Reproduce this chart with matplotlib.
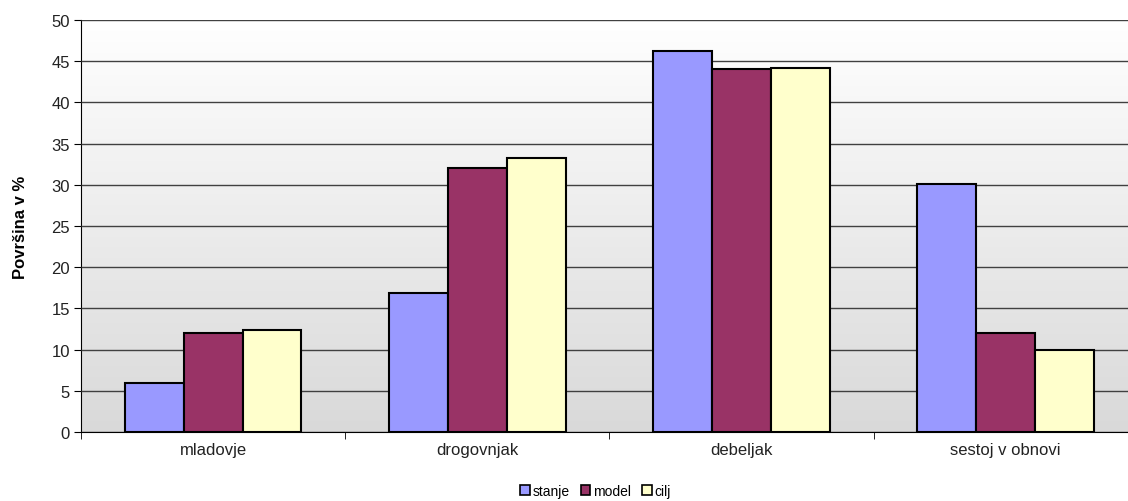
import numpy as np
import matplotlib.pyplot as plt
from matplotlib.patches import Patch
from matplotlib.colors import LinearSegmentedColormap

plt.rcParams['font.family'] = ['Liberation Sans', 'DejaVu Sans']

# chart data
categories = ['mladovje', 'drogovnjak', 'debeljak', 'sestoj v obnovi']
series_names = ['stanje', 'model', 'cilj']
stanje = [6.0, 16.9, 46.2, 30.1]
model = [12.0, 32.0, 44.1, 12.0]
cilj = [12.4, 33.3, 44.2, 9.9]
colors = ['#9999FF', '#993366', '#FFFFCC']

fig = plt.figure(figsize=(11.28, 5.02), dpi=100)
# plot area runs past the right edge of the picture, as in the original
ax = fig.add_axes([0.0718, 0.1375, 0.9369, 0.8207])

# gradient background (white at top to grey at bottom)
grad = np.linspace(1.0, 0.0, 256).reshape(-1, 1)
bg = LinearSegmentedColormap.from_list('bg', ['#D9D9D9', '#FFFFFF'])
ax.imshow(grad, cmap=bg, aspect='auto',
          extent=[-0.5, len(categories) - 0.5, 0, 50], origin='upper', zorder=0)

x = np.arange(len(categories))
width = 0.223
for i, (vals, col) in enumerate(zip([stanje, model, cilj], colors)):
    ax.bar(x + (i - 1) * width, vals, width, color=col, edgecolor='black',
           linewidth=1.5, zorder=3)

ax.set_xlim(-0.5, len(categories) - 0.5)
ax.set_ylim(0, 50)
ax.set_yticks(np.arange(0, 51, 5))
ax.yaxis.grid(True, color='#404040', linewidth=1.0, zorder=1)
ax.set_axisbelow(False)

ax.set_xticks(x)
ax.set_xticklabels(categories, fontsize=12, color='#222222')
ax.set_xticks(np.arange(-0.5, len(categories)), minor=True)
ax.tick_params(axis='x', which='major', length=0, pad=7)
ax.tick_params(axis='x', which='minor', length=5, color='black')
ax.tick_params(axis='y', length=5, labelsize=12, pad=3, labelcolor='#222222')

for side in ['top', 'right']:
    ax.spines[side].set_visible(False)
ax.spines['left'].set_color('black')
ax.spines['bottom'].set_color('black')

ax.set_ylabel('Površina v %', fontsize=12, fontweight='bold', labelpad=17)

handles = [Patch(facecolor=c, edgecolor='black', linewidth=1.2) for c in colors]
fig.legend(handles, series_names, loc='lower center', ncol=3, frameon=False,
           fontsize=10, handlelength=0.7, handleheight=0.7, handletextpad=0.2,
           columnspacing=0.8, bbox_to_anchor=(0.528, -0.018))

fig.savefig('out.png', dpi=100)
